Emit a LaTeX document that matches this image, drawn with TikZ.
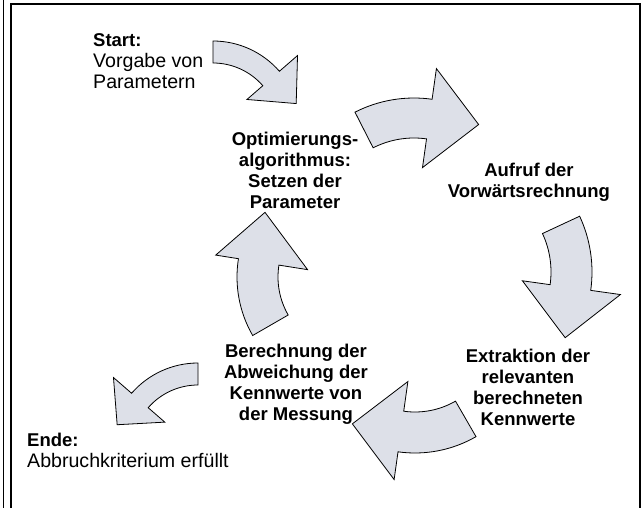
\documentclass[tikz,border=0pt]{standalone}
\usepackage{fontspec}
\setmainfont{Liberation Sans}
\definecolor{pfeilfarbe}{RGB}{221,224,232}
% gebogener Blockpfeil: Mitte, Winkel Ende/Basis/Spitze, r innen/aussen, Widerhaken innen/aussen, r Spitze
\newcommand{\bentarrow}[9]{%
  \draw[pfeil, shift={#1}] (#2:#6) arc[start angle=#2, end angle=#3, radius=#6]
    -- (#3:#8) -- (#4:#9) -- (#3:#7) -- (#3:#5)
    arc[start angle=#3, end angle=#2, radius=#5] -- cycle;}
\newcommand{\titel}[1]{{\fontsize{18.5}{21}\selectfont\bfseries #1}}

\begin{document}
\begin{tikzpicture}[x=1pt, y=-1pt,
    pfeil/.style={draw=black, line width=0.8pt, fill=pfeilfarbe},
    every node/.style={inner sep=0pt, font=\fontsize{18.5}{21}\selectfont},
    schritt/.style={align=center, anchor=north, font=\fontsize{18.5}{21}\selectfont\bfseries},
    rand/.style={align=left, anchor=north west, font=\fontsize{19.6}{21}\selectfont}]
    \useasboundingbox (0,0) rectangle (643,508);
    % Rahmen
    \draw[line width=1pt] (3.5,0) -- (3.5,508);
    \draw[line width=2pt] (11,508) -- (11,4) -- (640,4) -- (640,508);
    % Texte
    \node[rand] (0) at (93,33) {\titel{Start:}\\Vorgabe von\\Parametern};
    \node[schritt] (1) at (295,132) {Optimierungs-\\algorithmus:\\Setzen der\\Parameter};
    \node[schritt] (2) at (529,163) {Aufruf der\\Vorwärtsrechnung};
    \node[schritt] (3) at (528,349) {Extraktion der\\relevanten\\berechneten\\Kennwerte};
    \node[schritt] (4) at (296,344) {Berechnung der\\Abweichung der\\Kennwerte von\\der Messung};
    \node[rand] (5) at (27,433) {\titel{Ende:}\\Abbruchkriterium erfüllt};
    % Pfeile
    \bentarrow{(213,129)}{-90}{-41}{-17}{66}{88}{45}{112}{87}
    \bentarrow{(414,228)}{-117}{-82}{-58}{90}{130}{61}{161}{122}
    \bentarrow{(460,272)}{-25}{8}{32}{91}{132}{63}{162}{124}
    \bentarrow{(415,331)}{60}{98}{124}{81}{122}{51}{150}{112}
    \bentarrow{(354,277)}{150}{189}{216}{76}{117}{47}{140}{110}
    \bentarrow{(198,451)}{270}{221}{198}{66}{88}{44}{112}{85}
\end{tikzpicture}
\end{document}
